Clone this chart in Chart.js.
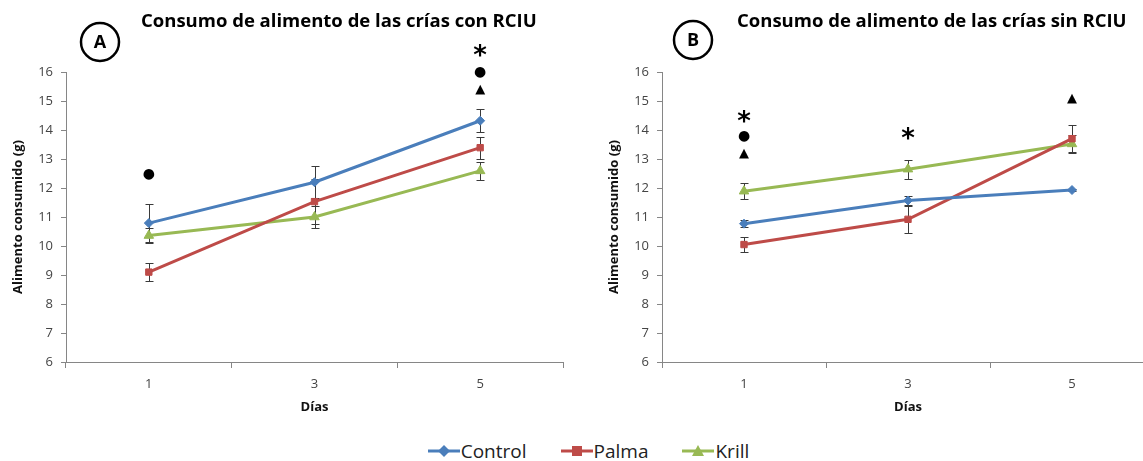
<!DOCTYPE html>
<html>
<head>
<meta charset="utf-8">
<script src="https://cdn.jsdelivr.net/npm/chart.js@4.4.1/dist/chart.umd.min.js"></script>
<style>
  html, body { margin: 0; padding: 0; background: #fff; overflow: hidden; }
  body { width: 1143px; height: 461px; position: relative; }
  #wrapA { position: absolute; left: 0; top: 0; width: 590px; height: 430px; }
  #wrapB { position: absolute; left: 590px; top: 0; width: 575px; height: 430px; }
  #leyenda { position: absolute; left: 0; top: 438px; width: 1143px; height: 26px;
    display: flex; justify-content: center; align-items: center; gap: 34px;
    font-family: "Open Sans", sans-serif; font-size: 19px; color: #222; padding-left: 34px; box-sizing: border-box; }
  .item { display: flex; align-items: center; gap: 1px; }
</style>
</head>
<body>
<div id="wrapA"><canvas id="graficoA"></canvas></div>
<div id="wrapB"><canvas id="graficoB"></canvas></div>
<div id="leyenda"></div>
<script>
// datos
const dias = ['1', '3', '5'];
const series = ['Control', 'Palma', 'Krill'];
const colores = ['#4A7EBB', '#BE4B48', '#98B954'];
const puntos = ['rectRot', 'rect', 'triangle'];

// A: crias con RCIU
const controlA = [10.79, 12.2, 14.32];
const controlAErr = [0.66, 0.55, 0.40];
const palmaA = [9.1, 11.53, 13.39];
const palmaAErr = [0.32, 0.77, 0.38];
const krillA = [10.36, 11.0, 12.59];
const krillAErr = [0.27, 0.38, 0.30];

// B: crias sin RCIU
const controlB = [10.77, 11.57, 11.93];
const controlBErr = [0.13, 0.17, 0.05];
const palmaB = [10.05, 10.92, 13.70];
const palmaBErr = [0.25, 0.46, 0.47];
const krillB = [11.89, 12.65, 13.52];
const krillBErr = [0.28, 0.33, 0.30];

// marcas de significancia (indice del dia, valor en eje y, simbolo)
const signosA = [[0, 12.48, '●'], [2, 16.73, '*'], [2, 16.0, '●'], [2, 15.38, '▲']];
const signosB = [[0, 14.45, '*'], [0, 13.79, '●'], [0, 13.17, '▲'], [1, 13.86, '*'], [2, 15.08, '▲']];

const grisEje = '#868686';

const barrasError = {
    id: 'barrasError',
    beforeDatasetsDraw(chart) {
        const ctx = chart.ctx;
        const y = chart.scales.y;
        ctx.save();
        ctx.strokeStyle = '#3a3a3a';
        ctx.lineWidth = 1;
        chart.data.datasets.forEach((ds, i) => {
            const meta = chart.getDatasetMeta(i);
            meta.data.forEach((pt, j) => {
                const e = ds.errores[j];
                const arriba = Math.round(y.getPixelForValue(ds.data[j] + e)) + 0.5;
                const abajo = Math.round(y.getPixelForValue(ds.data[j] - e)) + 0.5;
                const x = Math.round(pt.x) + 0.5;
                ctx.beginPath();
                ctx.moveTo(x, arriba); ctx.lineTo(x, abajo);
                ctx.moveTo(x - 4, arriba); ctx.lineTo(x + 4, arriba);
                ctx.moveTo(x - 4, abajo); ctx.lineTo(x + 4, abajo);
                ctx.stroke();
            });
        });
        ctx.restore();
    }
};

const encabezado = {
    id: 'encabezado',
    afterDraw(chart, args, opts) {
        const ctx = chart.ctx;
        const x = chart.scales.x, y = chart.scales.y;
        ctx.save();
        // letra en circulo
        ctx.beginPath();
        ctx.lineWidth = 2.5;
        ctx.strokeStyle = '#000';
        ctx.arc(opts.cx, opts.cy, 19, 0, Math.PI * 2);
        ctx.stroke();
        ctx.fillStyle = '#000';
        ctx.textAlign = 'center';
        ctx.textBaseline = 'middle';
        ctx.font = 'bold 18px "Open Sans", sans-serif';
        ctx.fillText(opts.letra, opts.cx, opts.cy + 1);
        // titulo
        ctx.font = 'bold 18.5px "Open Sans", sans-serif';
        ctx.textAlign = 'left';
        ctx.fillText(opts.titulo, opts.tx, 22);
        // signos
        opts.signos.forEach(s => {
            const px = x.getPixelForValue(s[0]);
            const py = y.getPixelForValue(s[1]);
            ctx.textAlign = 'center';
            if (s[2] === '*') {
                ctx.font = 'bold 26px "DejaVu Sans", sans-serif';
                ctx.fillText('*', px, py + 6);
            } else if (s[2] === '●') {
                ctx.font = '14px "DejaVu Sans", sans-serif';
                ctx.fillText('●', px, py);
            } else {
                ctx.font = '13px "DejaVu Sans", sans-serif';
                ctx.fillText('▲', px, py);
            }
        });
        ctx.restore();
    }
};

function conjunto(valores, errores, k) {
    return {
        label: series[k],
        data: valores,
        errores: errores,
        borderColor: colores[k],
        backgroundColor: colores[k],
        borderWidth: 3,
        pointStyle: puntos[k],
        pointRadius: k === 2 ? 5.5 : 4.5,
        pointBorderWidth: 1,
        tension: 0
    };
}

function crearGrafico(id, datos, anchoEje, padIzq, padDer, opts) {
    return new Chart(document.getElementById(id), {
        type: 'line',
        data: {
            labels: dias,
            datasets: datos
        },
        options: {
            responsive: true,
            maintainAspectRatio: false,
            animation: false,
            layout: { padding: { left: padIzq, right: padDer, top: 72, bottom: 0 } },
            plugins: {
                legend: { display: false },
                tooltip: { enabled: false },
                encabezado: opts
            },
            scales: {
                x: {
                    offset: true,
                    grid: { offset: true, drawOnChartArea: false, drawTicks: true, tickLength: 6, color: grisEje },
                    border: { display: true, color: grisEje, width: 1 },
                    ticks: { color: '#444', padding: 8, font: { family: '"Open Sans", sans-serif', size: 13 } },
                    title: { display: true, text: 'Días', color: '#111', padding: { top: 4, bottom: 15 },
                        font: { family: '"Open Sans", sans-serif', size: 13, weight: 'bold' } },
                    afterFit(scale) { scale.height = 68; }
                },
                y: {
                    min: 6,
                    max: 16,
                    ticks: { stepSize: 1, color: '#444', padding: 8, font: { family: '"Open Sans", sans-serif', size: 13 } },
                    grid: { drawOnChartArea: false, drawTicks: true, tickLength: 5, color: grisEje },
                    border: { display: true, color: grisEje, width: 1 },
                    title: { display: true, text: 'Alimento consumido (g)', color: '#111', padding: { top: 10, bottom: 0 },
                        font: { family: '"Open Sans", sans-serif', size: 13, weight: 'bold' } },
                    afterFit(scale) { scale.width = anchoEje; }
                }
            }
        },
        plugins: [barrasError, encabezado]
    });
}

document.addEventListener('DOMContentLoaded', function() {
    crearGrafico('graficoA', [
        conjunto(controlA, controlAErr, 0),
        conjunto(palmaA, palmaAErr, 1),
        conjunto(krillA, krillAErr, 2)
    ], 66, 0, 27, {
        letra: 'A', cx: 100, cy: 42, tx: 141,
        titulo: 'Consumo de alimento de las crías con RCIU', signos: signosA
    });

    crearGrafico('graficoB', [
        conjunto(controlB, controlBErr, 0),
        conjunto(palmaB, palmaBErr, 1),
        conjunto(krillB, krillBErr, 2)
    ], 66, 6, 11, {
        letra: 'B', cx: 103, cy: 40, tx: 147,
        titulo: 'Consumo de alimento de las crías sin RCIU', signos: signosB
    });

    // leyenda comun
    const leyenda = document.getElementById('leyenda');
    series.forEach((nombre, k) => {
        const item = document.createElement('div');
        item.className = 'item';
        const c = document.createElement('canvas');
        c.width = 32; c.height = 16;
        const g = c.getContext('2d');
        g.strokeStyle = colores[k]; g.fillStyle = colores[k]; g.lineWidth = 3;
        g.beginPath(); g.moveTo(0, 8); g.lineTo(32, 8); g.stroke();
        g.beginPath();
        if (k === 0) { g.moveTo(16, 2); g.lineTo(22, 8); g.lineTo(16, 14); g.lineTo(10, 8); }
        else if (k === 1) { g.rect(11, 3, 10, 10); }
        else { g.moveTo(16, 2); g.lineTo(22, 13); g.lineTo(10, 13); }
        g.closePath(); g.fill();
        const t = document.createElement('span');
        t.textContent = nombre;
        item.appendChild(c); item.appendChild(t);
        leyenda.appendChild(item);
    });
});
</script>
</body>
</html>
